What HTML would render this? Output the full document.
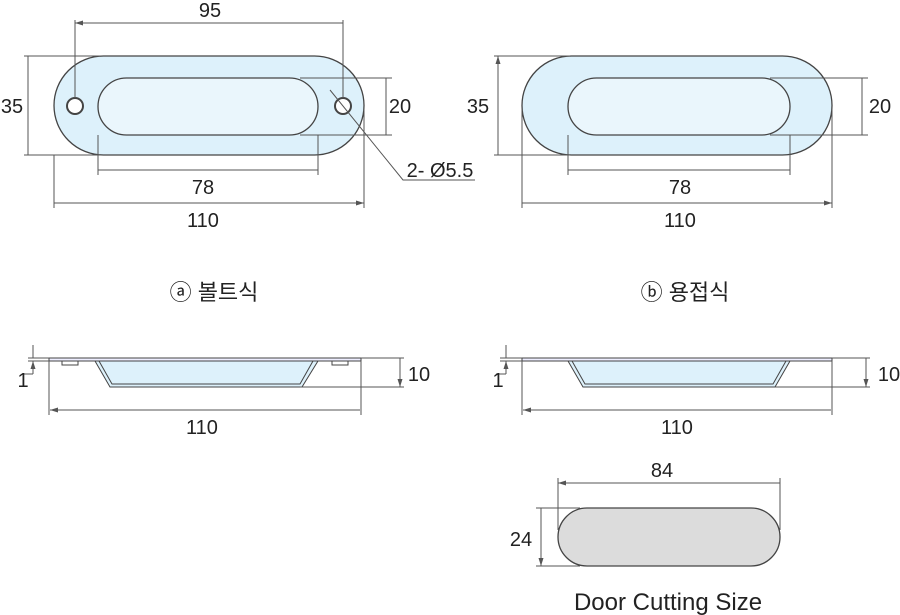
<!DOCTYPE html>
<html><head><meta charset="utf-8"><style>body{margin:0;background:#fff}svg{display:block}text{font-family:"Liberation Sans","Noto Sans CJK KR",sans-serif;fill:#222}</style></head><body>
<svg width="900" height="615" viewBox="0 0 900 615" xmlns="http://www.w3.org/2000/svg">
<defs><marker id="a" markerWidth="8" markerHeight="6" refX="8" refY="3" orient="auto-start-reverse" markerUnits="userSpaceOnUse"><path d="M0,0.5L8,3L0,5.5z" fill="#555"/></marker></defs>
<g stroke="#555" stroke-width="1" fill="none">
<!-- left top -->
<rect x="54" y="56" width="310" height="99" rx="49.5" fill="#ddf1fb" stroke="#444" stroke-width="1.3"/>
<rect x="98" y="78" width="220" height="57" rx="28.5" fill="#eaf6fc" stroke="#444" stroke-width="1.3"/>
<circle cx="75" cy="106" r="8" fill="#fff" stroke="#444" stroke-width="2"/>
<circle cx="343" cy="106" r="8" fill="#fff" stroke="#444" stroke-width="2"/>
<path d="M75,98V20M343,98V20M24,56H100M24,155H100M98,135V175M318,135V175M54,155V208M364,110V208M300,78H392M300,135H392M330,90L403,180H475"/>
<path d="M75,23H343M28,56V155M386,78V135M98,170H318M54,203H364" marker-start="url(#a)" marker-end="url(#a)"/>
<!-- right top -->
<rect x="522" y="56" width="310" height="99" rx="49.5" fill="#ddf1fb" stroke="#444" stroke-width="1.3"/>
<rect x="568" y="78" width="222" height="57" rx="28.5" fill="#eaf6fc" stroke="#444" stroke-width="1.3"/>
<path d="M494,56H570M494,155H570M568,135V175M790,135V175M522,110V208M832,110V208M770,78H868M770,135H868"/>
<path d="M498,56V155M862,78V135M568,170H790M522,203H832" marker-start="url(#a)" marker-end="url(#a)"/>
<!-- left side -->
<path d="M95,361L110,387H302L318,361Z" fill="#ddf1fb" stroke="#444"/>
<path d="M99,361L112,384H300L313,361" stroke="#444"/>
<rect x="49" y="358" width="312" height="3" fill="#eef" stroke="#444"/>
<path d="M62,361v4h16v-4M332,361v4h16v-4" stroke="#444"/>
<path d="M28,358H49M28,361H49M49,361V415M361,361V415M300,387H404M361,358H404"/>
<path d="M33,345V358M33,374V361" marker-end="url(#a)"/>
<path d="M50,410H360M400,358V387" marker-start="url(#a)" marker-end="url(#a)"/>
<path d="M33,374H22"/>
<!-- right side -->
<path d="M568,361L583,387H775L790,361Z" fill="#ddf1fb" stroke="#444"/>
<path d="M572,361L585,384H773L786,361" stroke="#444"/>
<rect x="522" y="358" width="310" height="3" fill="#eef" stroke="#444"/>
<path d="M500,358H522M500,361H522M522,361V415M832,361V415M775,387H870M832,358H870"/>
<path d="M506,345V358M506,374V361" marker-end="url(#a)"/>
<path d="M523,410H831M866,358V387" marker-start="url(#a)" marker-end="url(#a)"/>
<path d="M506,374H496"/>
<!-- door cutting -->
<rect x="558" y="508" width="222" height="58" rx="29" fill="#dcdcdc" stroke="#444" stroke-width="1.3"/>
<path d="M558,478V530M780,478V530M536,508H580M536,566H580"/>
<path d="M558,483H780M541,508V566" marker-start="url(#a)" marker-end="url(#a)"/>
</g>
<g font-size="20" text-anchor="middle">
<text x="210" y="17">95</text><text x="12" y="113">35</text><text x="400" y="113">20</text>
<text x="203" y="194">78</text><text x="203" y="227">110</text>
<text x="440" y="177">2- Ø5.5</text>
<text x="478" y="113">35</text><text x="880" y="113">20</text>
<text x="680" y="194">78</text><text x="680" y="227">110</text>
<text x="214" y="300" font-size="22">ⓐ 볼트식</text><text x="685" y="300" font-size="22">ⓑ 용접식</text>
<text x="23" y="387">1</text><text x="419" y="381">10</text><text x="202" y="434">110</text>
<text x="498" y="387">1</text><text x="889" y="381">10</text><text x="677" y="434">110</text>
<text x="662" y="477">84</text><text x="521" y="546">24</text>
<text x="668" y="610" font-size="24">Door Cutting Size</text>
</g>
</svg></body></html>
